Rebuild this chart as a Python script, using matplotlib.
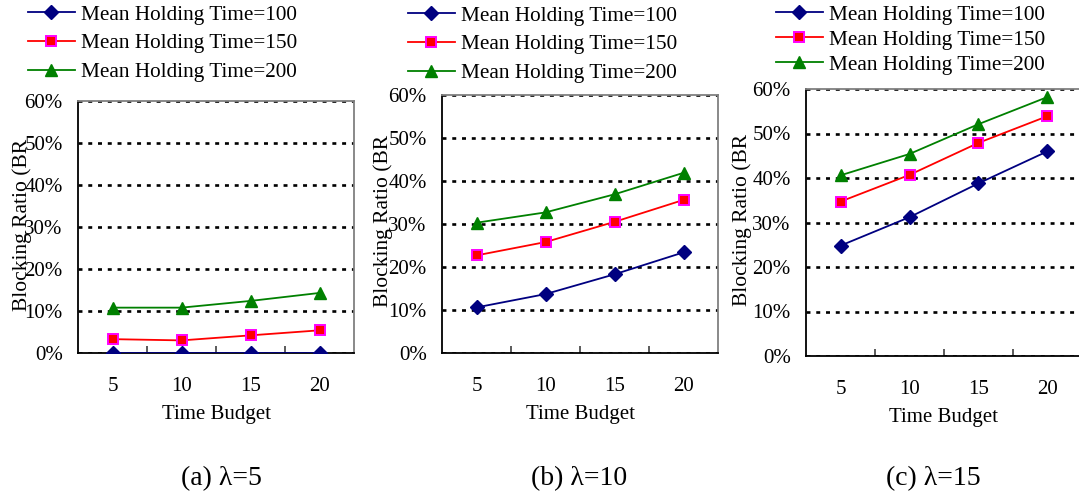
import numpy as np
import matplotlib
matplotlib.use('Agg')
import matplotlib.pyplot as plt
from matplotlib.ticker import FuncFormatter, FixedLocator

plt.rcParams['font.family'] = ['Liberation Serif', 'DejaVu Serif']

# time budget categories
budgets = ['5', '10', '15', '20']
y_ticks = [0, 0.1, 0.2, 0.3, 0.4, 0.5, 0.6]

# blocking ratio per lambda, for mean holding time 100 / 150 / 200
br_l5_100 = [0.0, 0.0, 0.0, 0.0]
br_l5_150 = [0.033, 0.030, 0.042, 0.054]
br_l5_200 = [0.108, 0.108, 0.124, 0.143]

br_l10_100 = [0.106, 0.137, 0.183, 0.234]
br_l10_150 = [0.227, 0.258, 0.305, 0.356]
br_l10_200 = [0.303, 0.327, 0.369, 0.419]

br_l15_100 = [0.248, 0.312, 0.388, 0.460]
br_l15_150 = [0.347, 0.407, 0.479, 0.539]
br_l15_200 = [0.406, 0.454, 0.521, 0.582]

labels = ['Mean Holding Time=100', 'Mean Holding Time=150', 'Mean Holding Time=200']
captions = ['(a) \u03bb=5', '(b) \u03bb=10', '(c) \u03bb=15']

W, H = 1079, 497
fig = plt.figure(figsize=(W / 100, H / 100), dpi=100)

# axes boxes in pixels: left, top, right, bottom
boxes = [(78, 101, 354, 353), (442, 95, 718, 353), (806, 89, 1082, 356)]
leg_pos = [(28, 5, 0.41), (408, 6, 0.41), (776, 5, 0.24)]
cap_x = [221, 579, 933]
ylab_off = [56, 59, 64]

data = [(br_l5_100, br_l5_150, br_l5_200),
        (br_l10_100, br_l10_150, br_l10_200),
        (br_l15_100, br_l15_150, br_l15_200)]

x = np.arange(len(budgets))

for i, (b, series) in enumerate(zip(boxes, data)):
    l, t, r, bt = b
    ax = fig.add_axes([l / W, 1 - bt / H, (r - l) / W, (bt - t) / H])
    s100, s150, s200 = series

    h1, = ax.plot(x, s100, color='#000080', lw=1.3, marker='D', ms=7,
                  mfc='#000080', mec='#000080', zorder=5)
    h2, = ax.plot(x, s150, color='#ff0000', lw=1.3, marker='s', ms=6.5,
                  mfc='#ff0000', mec='#ff00ff', mew=1.4, zorder=5)
    h3, = ax.plot(x, s200, color='#008000', lw=1.3, marker='^', ms=8,
                  mfc='#008000', mec='#008000', zorder=5)

    ax.set_xlim(-0.5, 3.5)
    ax.set_ylim(0, 0.6)
    ax.set_xticks(x)
    ax.set_xticklabels(budgets)
    ax.xaxis.set_minor_locator(FixedLocator([0.5, 1.5, 2.5]))
    ax.tick_params(axis='x', which='major', length=0, pad=17, labelsize=15)
    ax.tick_params(axis='x', which='minor', direction='in', length=5, width=1.2, color='#404040')
    ax.set_yticks(y_ticks)
    ax.yaxis.set_major_formatter(FuncFormatter(lambda v, p: '%d%%' % round(v * 100)))
    ax.tick_params(axis='y', length=0, pad=11, labelsize=15)

    ax.yaxis.grid(True, color='black', lw=1.9, linestyle=(0, (1.5, 2.2)))
    ax.set_axisbelow(True)

    for side in ['left', 'bottom']:
        ax.spines[side].set_color('black')
        ax.spines[side].set_linewidth(1.3)
    for side in ['top', 'right']:
        ax.spines[side].set_color('#808080')
        ax.spines[side].set_linewidth(1.3)

    ax.set_xlabel('Time Budget', fontsize=15)
    ax.xaxis.set_label_coords(0.5, -52 / (bt - t))
    ax.set_ylabel('Blocking Ratio (BR', fontsize=15.5)
    ax.yaxis.set_label_coords(-ylab_off[i] / (r - l), 0.51)
    ax.yaxis.label.set_va('center')

    lx, ly, sp = leg_pos[i]
    ax.legend([h1, h2, h3], labels, loc='upper left',
              bbox_to_anchor=(lx / W, 1 - ly / H), bbox_transform=fig.transFigure,
              frameon=False, fontsize=15.3, handlelength=2.2, handletextpad=0.3,
              labelspacing=sp, borderpad=0, borderaxespad=0)

    fig.text(cap_x[i] / W, 1 - 479 / H, captions[i], fontsize=20,
             ha='center', va='center')

fig.savefig('out.png', dpi=100)
